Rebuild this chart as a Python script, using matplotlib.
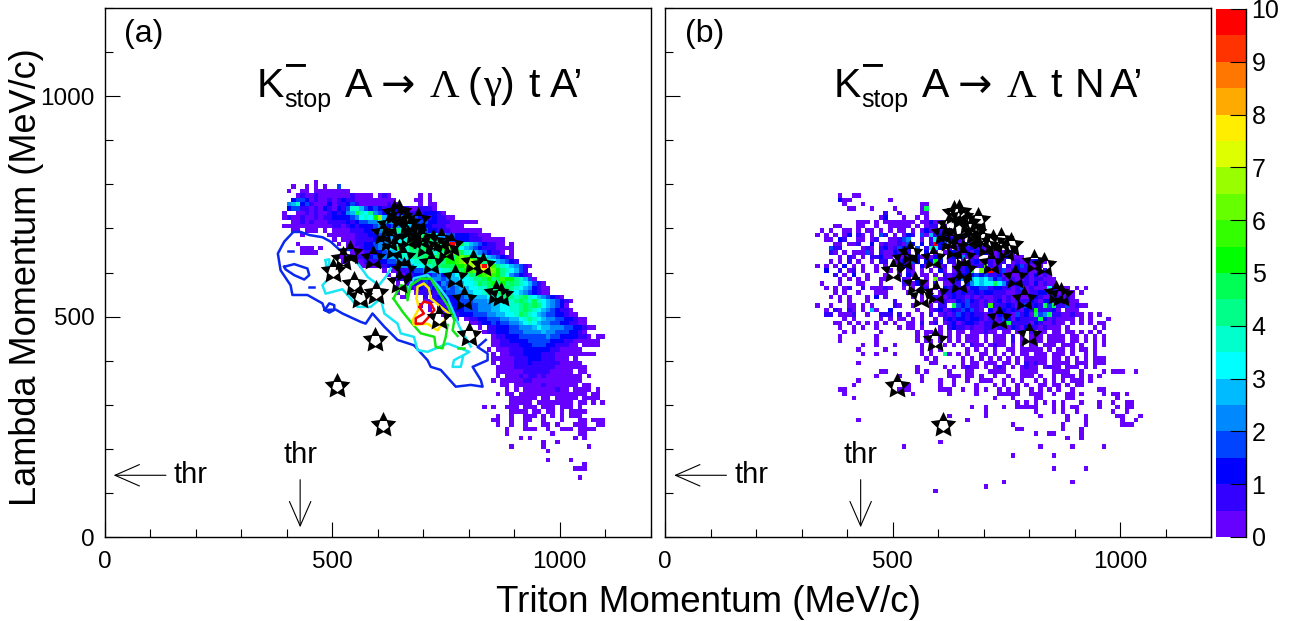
import numpy as np
import matplotlib
matplotlib.use("Agg")
import matplotlib.pyplot as plt
from matplotlib.colors import ListedColormap, BoundaryNorm
from matplotlib.path import Path
from matplotlib.ticker import MultipleLocator, FixedLocator

plt.rcParams['font.family'] = ['Liberation Sans', 'DejaVu Sans']

BIN = 10  # MeV/c per histogram cell
TOP_ROW_A = 80
COL0_A = 39
# each row: first column offset, then one character per cell ('.' empty, 1-9 a-k = colour class)
A_STARTS = [7,2,1,3,2,1,1,0,0,2,0,2,4,11,3,4,4,12,13,14,22,23,24,25,25,25,26,31,30,32,35,38,41,43,44,46,46,46,45,46,46,46,47,47,47,46,48,49,47,50,50,44,50,47,46,47,49,49,52,57,50,58,0,58,66,64,0,65]
A_CELLS = [
"1","1..1.1.1..4","1..11.11111111","12112111111121111.121......1.1","34431211212322111111111....11.1",
"5683421113122342111111211....1.11","344221213213248864343222322112221","1..1121211232356a8795435223322233321",
"12112112122333345787be6434565433232211","11212111222232344558656345654433222111111","1111111111122123233345434567654332221111",
"11.111.1.111122233457789865444332221111111","1.....1111112223344556778a9a87654433322111","1.1112222335567789aa9a8654433322211111",
"1........1.11223345567789aa9a8a9bck9a865432211.1","111.1.....11123345678aa8a99a89abdc9765432221111",
"1111.....1.111223345678899a9a8a9cdca876543221.1","1112223344566788999a9a9bb9cdcb987654321",
"11.1122233445667889a9a9bbcdfecb98765432","1..111122334556778899aaabbcefhkfc98765421","1.11223445667889aabcdfgedb987642",
"1.2132334245366788a9bcdcb9754321","12213424355456677899ab9acbb98641","1.2132424354566778a9ab9b9a9876421",
"11.213243445456677 88a9a9a987653211".replace(" ",""),"1.1.1223243445566778 9a9a9876543211".replace(" ",""),"11...2.2323344556667889a989a87654321",
"11222333444555667788 9a98a87654321".replace(" ",""),"1.1.2223334445556677889a9a9765431","1.2223334445556677889a9876543221",
"11223334445566778a987654433211","1.122334445566789876554433211","11233434455678765544332211",
"1.2233344555676655544 33211".replace(" ",""),"12233344455556554443321","12233344444454433 33221.11".replace(" ",""),"11223333444443332 2111111".replace(" ",""),
"1122223334443322211.1111","1.1112223333332211111","1.1122233332221111 11111".replace(" ",""),"11111222333222111.1",
"1.111222322222211111","11112222222221111111","11111122222211111.11","1.11121221211111111.1","1.111112211111111111",
"11.11111121111111.11","1.1.1111111211.1111.1","1.11.111111111111111.11","111111.11.11111.1111","11111.11111111.11.1.1",
"1.1..111.111.111.111.1","1111.11.11.1.1111","1..1..111.1.1.1.111","11..1..11..1...1...11.111",
"1..1..1...11.1...111..11","1...111..1..111.1111","1.........1.....11","1.1.........1.1","1..1",
"1......1.........1","1","","1....1","1","111","","1"]

TOP_ROW_B = 77
COL0_B = 33
B_CELLS = [
".....1..11",
".....311........1",
"......1...1............11",
".......11...1....1.....1a",
"...............2..1....11",
"..............13...1..1.1",
".........111.1.1111111.11311",
"....11...11..1..11111.1.122.1",
".1.1..11.1.11.1.1.11.1.1311211",
"1.1.1.13.21.1.42.1.132.41623211",
"..11.32..11.12..11245..1.27143321",
"....11.112..3.12112143.3.2k34.21351",
"...422....121.2312433.4.2873.1.2223221211",
"...21.1.11141.2113262.3.3.1.1332131323112121",
".....1.21.1.22311.112.311134.2325121..11213111",
"...1.1.2.1..1.22.123143.33b3.22.1.23132122.12112321",
"1.1.1.3.1.1..1.1..1231.31.112.1223222d212.21342111",
"..3..2.12.1..1..1.1.21.1.1.31.1223a.d2k2241332211.2",
"....2.1.3..1...1..1.31.11.1.212133343422312112213121",
".....1.1.1.1..11...21.3.1.d12113576767534212112122111",
".1...1...11...1....211321.2.1122.357677a7532322131211",
"..1.1.12..2.11121..1.1.22.1.3232213344233221241211173211.1.1",
"....1.1..1...111....1..2.1.122323223233222112212233121111.1",
"...1.1.1...1.3.1.....1.1.22112322121211221212112321122121",
".....1.1...1.....2.....1..1121132432121231212223213313 1211".replace(" ",""),
"1..1...11.1.1....21..1...1.22.a4342212c22232124232 a4a2241211".replace(" ",""),
"..1.21.21.1.61..3.....1..123123243421.3123232132b22231.111",
"..22.1112..1..222.2.1..1.2.121243232212132214231a45a221121 1.1.1".replace(" ",""),
"......1.1.....1.1.11.1.1..1.23233233212124313222 2a31211 11.1.1...1".replace(" ",""),
"....11.1.1.1.1.1.1..11.2.12.12312332122212a222213211211.1.1.1.11",
".....1..1.1..1....1.11.1...1.2322121122122132132212111.1.....1.1",
"......1.1.....1.......1.11.1.1.11.111211.11.13.2.11.11.11.1.1.1",
".....1.......1........1.1..1.1.1.111.1.111.2.1.111.1111.11.1.1.1",
".....1.......1........1.11.1.1.1.111.1.111.2.1.111.1111.11.1.1.1",
"..........1..1...1.....1.1..1.1.1.211.1211.1.1.11.111.111.1..1.1",
".........1.....1.......1.1.1.....1.1.1.1..11.11111.1.11.1.11.1",
"..........1..1...1.....1.1..91.1.1..11.1.1.1.11.111.111.1..1.1",
"........................1.1.....1.1.1.1.1.1.1.11111.11.1.1.1.111",
".........1...............11.....1.11.111.11.1.21211.1111.111.111",
"......................1.....1.1.1211.1.121.1.1211.1211.111.1.1",
]
# sparse lower rows of panel (b): row index and column offsets of single cells
B_LOW_ROWS = [37,36,35,34,33,32,31,30,29,28,27,26,25,24,23,22,21,20,18,15,12,11,10]
B_LOW_COLS = [
[14,15,22,24,29,33,34,38,39,40,41,45,46,47,48,52,53,54,55,58,63,65,66,67,70],
[13,18,23,29,30,31,33,34,36,39,42,45,46,47,49,52,54,55,56,58,60,62],
[9,23,27,30,33,36,37,38,41,43,45,48,50,52,54,56,57,58,60],
[8,20,27,30,35,39,41,44,46,49,50,52,53,55,57,58],
[5,6,18,19,20,27,28,29,32,35,37,40,42,44,47,49,51,53,56,62,63],
[6,21,29,35,40,41,42,43,44,47,48,49,52,55,56,58,63,65,66,68],
[8,39,43,48,49,55,56,66],
[44,46,48,50,52,54,58,62,65,68,69],
[34,37,41,44,45,46,47,48,52,54,56,57,62,66,68,69],
[37,48,52,54,57,65,68],
[29,37,49,55,59,66,67,71],
[9,33,55,59,67,70],
[43,54,59,67,68,69],
[44,45,54,58],
[48,51,52,58],
[55,58],
[27],
[19,49,56,63],
[43,52],
[52,59],
[41,56],
[37],
[26],
]

# events, both panels
STAR_X = [611,510,594,502,549,562,596,539,525,590,647,735,801,790,770,717,658,860,871,832,810,761,739,721,688,647,636,625,667,680,695,625,636,667,655,650,672,612,705,750]
STAR_Y = [254,342,447,603,575,544,553,644,630,632,578,497,458,540,590,621,605,553,549,617,624,662,673,669,719,737,735,707,712,689,678,673,655,678,635,725,700,690,660,650]

# contour levels of the simulated distribution in panel (a)
BLUE_X = [541,516,497,479,450,431,415,395,381,387,409,413,446,479,484,508,523,563,574,589,615,644,680,710,717,739,772,805,831,827,809,842,842,820,838]
BLUE_Y = [651,652,670,680,685,692,692,670,643,605,571,549,549,530,515,516,507,488,484,507,477,447,435,401,386,379,341,345,341,356,386,401,416,431,447]
BLUE2_X = [395,417,446,450,439,417,398,395]
BLUE2_Y = [613,619,609,594,584,594,607,613]
BLUE3_X = [484,494,505,505,494,484]
BLUE3_Y = [515,530,526,515,509,515]
BLUE4_X = [404,414]
BLUE4_Y = [648,648]
BLUE5_X = [449,461]
BLUE5_Y = [568,568]
CYAN1_X = [486,494,494,487,486]
CYAN1_Y = [628,630,617,615,628]
CYAN2_X = [556,570,578,603,618,629]
CYAN2_Y = [621,602,590,571,590,609]
CYAN3_X = [486,479,486,523,541,556,585,607,615,644,651,680,688,710,754,802,790,768,765,783,788]
CYAN3_Y = [579,571,552,562,541,522,522,541,507,484,462,454,424,420,439,420,413,401,386,386,409]
CYAN4_X = [805,780,768,754,732,710,680,666]
CYAN4_Y = [432,477,507,541,571,594,587,560]
GREEN1_X = [635,651,664,666,673,695,717,739,754,769,765,776]
GREEN1_Y = [541,571,568,537,571,586,586,549,526,492,469,456]
GREEN2_X = [635,655,673,695,725,728,743,750,754]
GREEN2_Y = [541,511,488,462,454,431,428,454,481]
GREEN3_X = [776,790]
GREEN3_Y = [429,429]
YELLOW_X = [686,688,702,713,717,739,757,750,732,725,710,680,677,691,686]
YELLOW_Y = [541,568,575,564,541,522,507,496,469,473,484,481,492,518,541]
RED_X = [692,702,717,725,710,699,684,684,702,692]
RED_Y = [522,534,530,515,496,484,484,496,507,522]

LEVEL_COLORS = ['#6600ff','#3300ff','#0000ff','#0044ff','#0088ff','#00bbff','#00ffff','#00ffcc','#00ff88','#00ff55',
                '#00ff00','#33ff00','#66ff00','#99ff00','#ddff00','#ffee00','#ffaa00','#ff7700','#ff3300','#ff0000']
CODES = '123456789abcdefghijk'
LEVELS = np.arange(0, 10.5, 0.5)

W, H = 1297, 621
NX, NY = 120, 120

def grid_a():
    g = np.full((NY, NX), np.nan)
    for i, (s, row) in enumerate(zip(A_STARTS, A_CELLS)):
        r = TOP_ROW_A - i
        for j, ch in enumerate(row):
            if ch != '.':
                g[r, COL0_A + s + j] = (CODES.index(ch) + 0.5) / 2
    return g

def grid_b():
    g = np.full((NY, NX), np.nan)
    for i, row in enumerate(B_CELLS):
        r = TOP_ROW_B - i
        for j, ch in enumerate(row):
            if ch != '.':
                g[r, COL0_B + j] = (CODES.index(ch) + 0.5) / 2
    for r, cols in zip(B_LOW_ROWS, B_LOW_COLS):
        for p in cols:
            g[r, COL0_B + p] = 0.25
    return g

def star_path():
    ang = np.pi / 2 + np.arange(10) * np.pi / 5
    rad = np.where(np.arange(10) % 2 == 0, 1.0, 0.5)
    outer = np.c_[rad * np.cos(ang), rad * np.sin(ang)]
    ang2 = (np.pi / 2 + np.pi / 5 + np.arange(5) * 2 * np.pi / 5)[::-1]
    inner = np.c_[0.41 * np.cos(ang2), 0.41 * np.sin(ang2)]
    verts = np.r_[outer, outer[:1], inner, inner[:1]]
    codes = [Path.MOVETO] + [Path.LINETO] * 9 + [Path.CLOSEPOLY] + [Path.MOVETO] + [Path.LINETO] * 4 + [Path.CLOSEPOLY]
    return Path(verts, codes)

fig = plt.figure(figsize=(W / 100, H / 100), dpi=100, facecolor='white')

def axes_px(x0, y0, x1, y1):
    return fig.add_axes([x0 / W, 1 - y1 / H, (x1 - x0) / W, (y1 - y0) / H])

def put(x, y, s, size, **kw):
    kw.setdefault('va', 'baseline')
    kw.setdefault('ha', 'left')
    fig.text(x / W, 1 - y / H, s, fontsize=size, color=kw.pop('color', 'black'), **kw)

cmap = ListedColormap(LEVEL_COLORS)
norm = BoundaryNorm(LEVELS, cmap.N)
edges_x = np.arange(NX + 1) * BIN
edges_y = np.arange(NY + 1) * BIN
STAR = star_path()

def panel(pos, grid, tag, with_labels):
    ax = axes_px(*pos)
    mesh = ax.pcolormesh(edges_x, edges_y, np.ma.masked_invalid(grid), cmap=cmap, norm=norm, linewidth=0, rasterized=True, zorder=1)
    ax.set_xlim(0, 1200)
    ax.set_ylim(0, 1200)
    ax.xaxis.set_major_locator(FixedLocator([0, 500, 1000]))
    ax.yaxis.set_major_locator(FixedLocator([0, 500, 1000]))
    ax.xaxis.set_minor_locator(MultipleLocator(100))
    ax.yaxis.set_minor_locator(MultipleLocator(100))
    ax.tick_params(which='major', direction='in', length=11, width=0.8, labelsize=17.5, top=False, right=False)
    ax.tick_params(axis='x', which='major', pad=10)
    ax.tick_params(axis='y', which='major', pad=7)
    ax.tick_params(which='minor', direction='in', length=5.5, width=0.8, top=False, right=False)
    if not with_labels:
        ax.set_yticklabels([])
    for sp in ax.spines.values():
        sp.set_linewidth(1.0)
    ax.annotate('', xy=(20, 140), xytext=(135, 140), arrowprops=dict(arrowstyle='->,head_length=0.8,head_width=0.35', lw=0.8, color='black', shrinkA=0, shrinkB=0, mutation_scale=22))
    ax.annotate('', xy=(430, 22), xytext=(430, 130), arrowprops=dict(arrowstyle='->,head_length=0.8,head_width=0.35', lw=0.8, color='black', shrinkA=0, shrinkB=0, mutation_scale=22))
    ax.text(152, 140, 'thr', fontsize=21, va='center', ha='left')
    ax.text(430, 186, 'thr', fontsize=21, va='center', ha='center')
    ax.text(43, 1140, tag, fontsize=23, va='center', ha='left')
    return ax, mesh

ax_a, mesh_a = panel((104.5, 8, 650.5, 537), grid_a(), '(a)', True)
ax_b, mesh_b = panel((665, 8, 1211, 537), grid_b(), '(b)', False)

for xs, ys, col in [(BLUE_X, BLUE_Y, '#0a28f0'), (BLUE2_X, BLUE2_Y, '#0a28f0'), (BLUE3_X, BLUE3_Y, '#0a28f0'),
                    (BLUE4_X, BLUE4_Y, '#0a28f0'), (BLUE5_X, BLUE5_Y, '#0a28f0'),
                    (CYAN1_X, CYAN1_Y, '#19e6f5'), (CYAN2_X, CYAN2_Y, '#19e6f5'), (CYAN3_X, CYAN3_Y, '#19e6f5'), (CYAN4_X, CYAN4_Y, '#19e6f5'),
                    (GREEN1_X, GREEN1_Y, '#14e614'), (GREEN2_X, GREEN2_Y, '#14e614'), (GREEN3_X, GREEN3_Y, '#14e614'),
                    (YELLOW_X, YELLOW_Y, '#ffe600'), (RED_X, RED_Y, '#f00000')]:
    ax_a.plot(xs, ys, color=col, lw=1.8, solid_joinstyle='round', zorder=3)

for ax in (ax_a, ax_b):
    ax.plot(STAR_X, STAR_Y, ls='none', marker=STAR, ms=19.5, mfc='black', mec='none', mew=0, zorder=4)

cax = axes_px(1216, 9, 1246, 537)
cb = fig.colorbar(mesh_a, cax=cax, boundaries=LEVELS, ticks=np.arange(0, 11))
cb.outline.set_visible(False)
cb.set_ticklabels([str(v) for v in range(11)])
cax.yaxis.set_minor_locator(FixedLocator([]))
cax.tick_params(axis='y', direction='in', length=11.5, width=0.8, labelsize=18, pad=4, right=True, left=False)
cax.plot([1, 1], [0, 1], transform=cax.transAxes, color='black', lw=1, clip_on=False)

fig.text(708 / W, 1 - 612 / H, 'Triton Momentum (MeV/c)', fontsize=26.5, ha='center', va='baseline')
fig.text(27 / W, 1 - 277 / H, 'Lambda Momentum (MeV/c)', fontsize=26, rotation=90, ha='center', va='center')

SERIF = ['Liberation Serif', 'DejaVu Serif']
ARROW = ['DejaVu Sans']
def reaction(x0, parts):
    put(x0, 97, 'K', 29.5)
    put(x0 + 27, 107, 'stop', 18)
    put(x0 + 27, 78, '\u2212', 29.5)
    for dx, s, fam in parts:
        put(x0 + dx, 97, s, 29.5, family=fam)

reaction(257, [(88, 'A', None), (124, '\u2192', ARROW), (173, '\u039b', SERIF), (211, '(', None), (226, '\u03b3', SERIF), (244, ')', None), (271, 't', None), (293, 'A\u2019', None)])
reaction(834, [(88, 'A', None), (124, '\u2192', ARROW), (173, '\u039b', SERIF), (216, 't', None), (241, 'N', None), (276, 'A\u2019', None)])

fig.savefig('out.png', dpi=100)
